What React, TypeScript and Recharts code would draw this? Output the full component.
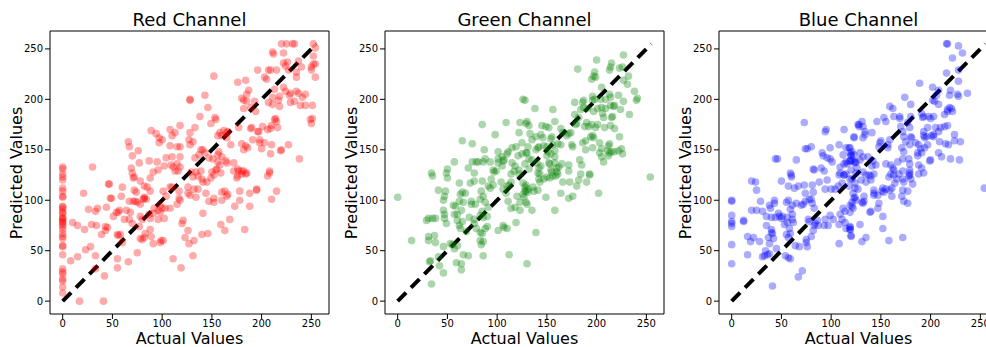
import { ReferenceLine, Scatter, ScatterChart, XAxis, YAxis } from 'recharts'

const RED_POINTS: [number, number][] = [
  [0, 133], [0, 131], [0, 126], [0, 123], [0, 120], [0, 112], [0, 109], [0, 104], [0, 103], [0, 94], [0, 93], [0, 91],
  [0, 88], [0, 87], [0, 83], [0, 82], [0, 81], [0, 79], [0, 78], [0, 76], [0, 74], [0, 71], [0, 67], [0, 64], [0, 62],
  [0, 55], [0, 54], [0, 46], [0, 32], [0, 29], [0, 27], [0, 22], [0, 20], [0, 14], [0, 8],
  [128, 200], [89, 169], [94, 166], [97, 162], [100, 160], [97, 157], [108, 170], [113, 167], [110, 164], [118, 174],
  [66, 158], [67, 153], [76, 149], [70, 144], [108, 154], [115, 153], [118, 153], [104, 142], [110, 143], [118, 143],
  [87, 139], [95, 138], [102, 134], [109, 135], [111, 133], [115, 136], [118, 133], [77, 137], [69, 132], [30, 133],
  [70, 127], [91, 128], [96, 130], [113, 129], [116, 129], [128, 167], [128, 155],
  [220, 255], [225, 255], [231, 255], [233, 255], [252, 255], [254, 251], [211, 247], [212, 245], [222, 246], [252, 243],
  [252, 235], [254, 235], [222, 236], [226, 237], [224, 233], [227, 229], [237, 238], [240, 232], [196, 229], [207, 229],
  [209, 229], [215, 229], [235, 227], [235, 222], [250, 229], [250, 232], [254, 222], [203, 222], [205, 220], [152, 223],
  [176, 217], [184, 219], [187, 209], [185, 205], [222, 212], [224, 208], [229, 206], [228, 204], [235, 208], [237, 206],
  [241, 202], [244, 205], [213, 210], [211, 202], [218, 203], [217, 199], [180, 201], [182, 199], [143, 204], [128, 199],
  [185, 198], [193, 198], [207, 197], [211, 195], [218, 193], [229, 197], [233, 198], [239, 194], [244, 194], [251, 194],
  [182, 191], [189, 192], [194, 188], [146, 192], [138, 183], [153, 182], [154, 180], [133, 172], [149, 176], [162, 169],
  [158, 167], [156, 164], [160, 164], [165, 167], [165, 162], [166, 168], [177, 172], [190, 172], [189, 171], [196, 168],
  [197, 168], [201, 173], [210, 174], [206, 170], [209, 171], [216, 172], [213, 180], [215, 178], [214, 181], [251, 181],
  [249, 180], [250, 176], [127, 160], [131, 158], [169, 155], [180, 156], [184, 154], [182, 150], [186, 152], [191, 160],
  [198, 160], [198, 157], [203, 157], [200, 151], [210, 155], [209, 146], [219, 149], [220, 150], [227, 155], [238, 141],
  [139, 150], [141, 150], [143, 147], [133, 142], [137, 145], [147, 142], [151, 141], [156, 145], [160, 143], [157, 148],
  [156, 138], [158, 135], [164, 139], [165, 137], [172, 137], [180, 129], [182, 129], [176, 131], [177, 129], [172, 129],
  [155, 131], [154, 130], [139, 129], [150, 128], [208, 129], [208, 127], [185, 127], [129, 128], [134, 128],
  [46, 116], [47, 116], [60, 113], [71, 122], [72, 123], [78, 119], [72, 110], [74, 108], [82, 114], [85, 113], [82, 102],
  [81, 101], [88, 122], [21, 107], [49, 102], [48, 102], [59, 104], [67, 99], [71, 99], [73, 99], [75, 98], [78, 96],
  [82, 103], [84, 101], [88, 109], [101, 109], [104, 104], [108, 113], [110, 113], [117, 109], [117, 102], [115, 96],
  [118, 100], [126, 113], [126, 107], [98, 95], [100, 92], [103, 92], [108, 92], [92, 92], [96, 90], [91, 87], [98, 88],
  [96, 81], [102, 82], [26, 91], [33, 89], [35, 92], [44, 93], [57, 90], [54, 88], [56, 88], [64, 90], [62, 81], [67, 81],
  [68, 88], [87, 86], [88, 82], [78, 84], [80, 81], [51, 84], [70, 77], [29, 76], [34, 75], [10, 78], [15, 75], [22, 71],
  [43, 74], [45, 73], [43, 70], [39, 66], [55, 66], [58, 66], [60, 58], [56, 65], [77, 74], [82, 63], [78, 62], [80, 61],
  [83, 67], [88, 71], [89, 64], [91, 57], [98, 58], [99, 60], [101, 60], [121, 80], [120, 77], [126, 70], [123, 63],
  [127, 57], [23, 51], [28, 54], [15, 44], [8, 40], [33, 45], [75, 48], [55, 42], [55, 33], [66, 39], [33, 32], [42, 25],
  [111, 42], [119, 33], [17, 0], [41, 0],
  [131, 123], [136, 124], [140, 121], [141, 118], [145, 118], [149, 122], [152, 125], [159, 127], [175, 122], [176, 124],
  [180, 126], [184, 126], [206, 124], [132, 111], [136, 111], [128, 105], [134, 103], [144, 107], [160, 108], [163, 109],
  [166, 106], [165, 104], [178, 109], [188, 107], [195, 111], [195, 110], [215, 109], [147, 99], [152, 102], [152, 98],
  [160, 100], [178, 100], [173, 94], [188, 94], [210, 101], [141, 87], [168, 81], [159, 76], [163, 70], [183, 71],
  [140, 66], [146, 67], [132, 60], [131, 45],
]

const GREEN_POINTS: [number, number][] = [
  [126, 200], [85, 175], [109, 177], [123, 177], [129, 176], [98, 165], [122, 167], [65, 159], [75, 156], [125, 157],
  [87, 150], [101, 148], [111, 148], [115, 152], [119, 153], [110, 146], [105, 143], [101, 141], [107, 140], [125, 146],
  [121, 144], [129, 147], [57, 138], [50, 131], [49, 127], [34, 127], [75, 138], [79, 138], [81, 138], [86, 138],
  [93, 138], [88, 141], [71, 132], [77, 127], [96, 130], [97, 128], [101, 137], [105, 134], [106, 139], [99, 129],
  [115, 137], [118, 134], [117, 129], [114, 126], [122, 130], [122, 126],
  [227, 244], [200, 239], [215, 236], [214, 232], [213, 229], [181, 230], [223, 231], [226, 232], [198, 227], [197, 223],
  [195, 220], [199, 222], [232, 223], [227, 219], [231, 215], [205, 212], [213, 205], [214, 202], [222, 204], [238, 208],
  [241, 201], [240, 199], [227, 198], [196, 203], [198, 200], [196, 199], [178, 197], [187, 199], [186, 197], [204, 200],
  [209, 200], [201, 191], [205, 192], [209, 191], [214, 194], [217, 193], [218, 194], [224, 190], [184, 190], [187, 192],
  [191, 191], [197, 188], [206, 186], [207, 182], [216, 183], [215, 182], [233, 185], [128, 199], [138, 191], [156, 190],
  [178, 185], [182, 182], [180, 176], [179, 175], [190, 177], [188, 173], [192, 173], [195, 175], [199, 172], [201, 175],
  [208, 172], [214, 174], [218, 171], [130, 178], [132, 174], [133, 166], [145, 174], [149, 173], [152, 172], [158, 178],
  [144, 165], [146, 162], [139, 163], [155, 163], [154, 161], [164, 171], [166, 167], [172, 166], [170, 164], [174, 167],
  [161, 156], [164, 155], [175, 155], [176, 153], [186, 157], [189, 159], [194, 163], [196, 164], [197, 162], [189, 150],
  [196, 152], [203, 157], [205, 151], [203, 147], [212, 154], [211, 149], [213, 156], [223, 163], [215, 148], [218, 148],
  [222, 149], [225, 151], [226, 146], [213, 147], [212, 144], [205, 143], [207, 138], [130, 147], [131, 153], [135, 160],
  [139, 150], [141, 152], [142, 153], [147, 154], [150, 153], [151, 148], [150, 144], [156, 155], [154, 146], [158, 149],
  [158, 143], [132, 141], [135, 140], [128, 136], [132, 131], [140, 137], [142, 132], [144, 134], [141, 127], [143, 126],
  [152, 137], [153, 136], [154, 130], [155, 128], [158, 137], [160, 132], [162, 133], [160, 128], [161, 126], [165, 136],
  [172, 135], [172, 129], [183, 140], [185, 135], [184, 126], [193, 126],
  [0, 103], [14, 60], [34, 17], [35, 124], [50, 122], [41, 110], [48, 109], [47, 104], [46, 100], [62, 117], [73, 117],
  [77, 119], [85, 119], [94, 121], [96, 115], [91, 114], [65, 108], [68, 107], [63, 106], [62, 99], [66, 98], [56, 95],
  [58, 94], [57, 86], [60, 86], [64, 90], [74, 99], [74, 96], [78, 96], [83, 101], [86, 104], [88, 98], [84, 109],
  [93, 112], [104, 118], [110, 114], [112, 115], [114, 118], [106, 111], [109, 107], [111, 99], [120, 104], [123, 98],
  [118, 93], [114, 92], [123, 90], [128, 113], [129, 109], [129, 98], [46, 90], [47, 82], [49, 77], [47, 86], [29, 80],
  [31, 82], [35, 82], [38, 82], [31, 64], [37, 65], [38, 58], [31, 60], [60, 80], [62, 75], [63, 72], [65, 79], [72, 83],
  [77, 81], [77, 77], [83, 85], [85, 89], [91, 93], [90, 84], [86, 83], [79, 72], [69, 69], [83, 68], [85, 67], [88, 72],
  [90, 74], [101, 70], [106, 75], [107, 73], [110, 72], [119, 78], [84, 56], [83, 60], [86, 59], [46, 54], [53, 57],
  [55, 56], [57, 52], [60, 55], [41, 44], [33, 40], [32, 39], [42, 35], [46, 28], [59, 38], [64, 37], [64, 31], [66, 46],
  [71, 45], [86, 45], [112, 46], [130, 37],
  [254, 123], [126, 117], [129, 115], [131, 111], [128, 109], [131, 108], [126, 106], [127, 103], [136, 113], [137, 109],
  [141, 110], [143, 118], [142, 121], [147, 121], [150, 123], [153, 122], [156, 124], [159, 124], [166, 118], [173, 118],
  [180, 114], [182, 120], [190, 118], [193, 125], [164, 107], [176, 104], [172, 102], [149, 103], [202, 107], [130, 96],
  [135, 90], [158, 90], [139, 68],
]

const BLUE_POINTS: [number, number][] = [
  [73, 177], [95, 170], [94, 168], [113, 170], [127, 175], [123, 163], [74, 151], [76, 151], [80, 153], [91, 147],
  [92, 144], [96, 142], [99, 141], [101, 138], [99, 152], [108, 155], [115, 152], [118, 152], [119, 147], [112, 145],
  [120, 145], [123, 145], [44, 141], [46, 141], [65, 140], [82, 131], [83, 130], [90, 132], [93, 129], [109, 133],
  [113, 136], [115, 138], [116, 136], [119, 139], [121, 140], [123, 138], [125, 138], [115, 126], [109, 127], [113, 125],
  [108, 125], [59, 127], [60, 125],
  [216, 255], [217, 255], [228, 253], [232, 246], [222, 241], [228, 229], [216, 226], [189, 216], [228, 218], [202, 212],
  [208, 209], [220, 209], [219, 204], [227, 205], [228, 203], [237, 206], [174, 202], [206, 204], [204, 198], [208, 195],
  [202, 199], [180, 195], [159, 193], [162, 191], [219, 192], [221, 191], [217, 190], [222, 188], [191, 186], [193, 183],
  [198, 183], [203, 183], [200, 181], [192, 182], [169, 183], [163, 183], [169, 181], [180, 183], [214, 185], [217, 188],
  [131, 178], [128, 175], [128, 173], [132, 173], [146, 178], [153, 182], [155, 178], [177, 177], [179, 172], [197, 172],
  [193, 168], [193, 164], [194, 162], [196, 163], [205, 172], [210, 172], [214, 173], [217, 174], [208, 168], [203, 165],
  [180, 163], [181, 162], [170, 173], [172, 168], [173, 163], [134, 168], [134, 165], [132, 162], [141, 167], [123, 162],
  [150, 159], [149, 157], [148, 153], [159, 160], [157, 155], [157, 152], [171, 152], [173, 148], [175, 158], [179, 155],
  [185, 157], [188, 155], [190, 151], [187, 147], [191, 147], [187, 144], [201, 164], [203, 163], [197, 155], [194, 152],
  [209, 158], [215, 156], [218, 155], [224, 165], [224, 159], [230, 158], [208, 147], [211, 143], [220, 141], [229, 140],
  [199, 139], [119, 152], [121, 148], [120, 144], [119, 139], [129, 147], [129, 140], [132, 143], [137, 143], [142, 139],
  [141, 134], [145, 135], [155, 136], [124, 137], [126, 132], [120, 130], [125, 127], [132, 128], [135, 125], [138, 125],
  [143, 126], [160, 135], [162, 132], [163, 130], [167, 138], [172, 141], [178, 141], [179, 136], [179, 130], [179, 127],
  [172, 129], [168, 126], [179, 125], [188, 135], [191, 132], [188, 126], [193, 127], [160, 126], [163, 125], [200, 140],
  [20, 119], [24, 118], [25, 110], [50, 119], [60, 123], [57, 114], [63, 112], [67, 114], [73, 115], [74, 107], [81, 115],
  [82, 108], [88, 118], [96, 120], [94, 111], [100, 111], [104, 111], [107, 114], [111, 117], [113, 125], [118, 114],
  [121, 121], [0, 100], [0, 99], [29, 99], [43, 100], [43, 97], [38, 95], [39, 92], [20, 90], [25, 90], [31, 89], [0, 85],
  [0, 79], [0, 77], [0, 74], [12, 80], [12, 79], [35, 84], [40, 83], [44, 83], [47, 87], [48, 84], [51, 84], [50, 82],
  [56, 83], [61, 86], [61, 81], [62, 78], [55, 98], [57, 100], [61, 95], [59, 91], [65, 97], [70, 95], [72, 96], [74, 99],
  [78, 101], [80, 101], [81, 97], [83, 92], [56, 78], [53, 76], [58, 72], [59, 67], [57, 63], [55, 66], [40, 71],
  [40, 68], [41, 67], [37, 63], [42, 62], [35, 75], [16, 64], [19, 59], [22, 63], [28, 59], [0, 56], [38, 57], [45, 52],
  [34, 50], [36, 46], [38, 47], [31, 44], [33, 45], [16, 46], [54, 45], [57, 43], [59, 42], [64, 55], [68, 54], [75, 58],
  [76, 54], [75, 61], [80, 64], [82, 70], [83, 75], [84, 77], [87, 75], [86, 80], [77, 81], [78, 79], [93, 75], [94, 81],
  [97, 75], [99, 85], [102, 81], [108, 76], [109, 86], [111, 81], [114, 78], [114, 89], [112, 92], [119, 88], [119, 73],
  [119, 71], [120, 65], [115, 72], [108, 57], [0, 37], [71, 30], [67, 24], [41, 15], [121, 94], [123, 102], [124, 112],
  [119, 121], [124, 117], [127, 111], [130, 120], [135, 118], [140, 120], [140, 124], [158, 123], [166, 121], [173, 118],
  [172, 121], [178, 124], [180, 121], [182, 116], [172, 110], [177, 109], [164, 117], [161, 112], [159, 110], [155, 111],
  [152, 112], [151, 109], [153, 108], [147, 105], [143, 107], [143, 110], [143, 105], [122, 107], [124, 103], [125, 100],
  [121, 98], [119, 95], [122, 92], [133, 104], [133, 99], [131, 98], [132, 97], [139, 88], [140, 89], [147, 92], [148, 97],
  [161, 104], [171, 104], [173, 99], [177, 97], [152, 84], [152, 72], [129, 76], [119, 74], [120, 64], [119, 71],
  [135, 63], [131, 59], [158, 60], [172, 63], [254, 112],
]

const AXIS_TICKS = [0, 50, 100, 150, 200, 250]
const DOMAIN: [number, number] = [-12.75, 267.75]
const IDENTITY = [{ x: 0, y: 0 }, { x: 255, y: 255 }]

const PANELS = [
  { title: 'Red Channel', points: RED_POINTS, color: '#ff0000', left: 0 },
  { title: 'Green Channel', points: GREEN_POINTS, color: '#008000', left: 335 },
  { title: 'Blue Channel', points: BLUE_POINTS, color: '#0000ff', left: 669 },
]

const CHART_W = 335
const CHART_H = 347
const PLOT_LEFT = 50
const PLOT_TOP = 31
const PLOT_W = 279
const PLOT_H = 283
const FONT = '"DejaVu Sans", sans-serif'

interface PanelProps {
  title: string
  points: [number, number][]
  color: string
  left: number
}

function ChannelPanel({ title, points, color, left }: PanelProps) {
  const data = points.map(([x, y]) => ({ x, y }))
  const tick = { fontSize: 10, fill: '#000' }
  return (
    <div style={{ position: 'absolute', left, top: 0, width: CHART_W, height: CHART_H }}>
      <ScatterChart
        width={CHART_W}
        height={CHART_H}
        margin={{ top: PLOT_TOP, right: CHART_W - PLOT_LEFT - PLOT_W, bottom: 0, left: 0 }}
      >
        <XAxis
          type="number"
          dataKey="x"
          domain={DOMAIN}
          ticks={AXIS_TICKS}
          allowDataOverflow
          height={CHART_H - PLOT_TOP - PLOT_H}
          stroke="#000"
          tickSize={5}
          tickMargin={1}
          tick={tick}
        />
        <YAxis
          type="number"
          dataKey="y"
          domain={DOMAIN}
          ticks={AXIS_TICKS}
          allowDataOverflow
          width={PLOT_LEFT}
          stroke="#000"
          tickSize={5}
          tickMargin={2}
          tick={tick}
        />
        <ReferenceLine y={DOMAIN[1]} stroke="#000" />
        <ReferenceLine x={DOMAIN[1]} stroke="#000" />
        <Scatter
          data={data}
          isAnimationActive={false}
          shape={(p: any) => <circle cx={p.cx} cy={p.cy} r={3.8} fill={color} fillOpacity={0.33} />}
        />
        <ReferenceLine segment={IDENTITY} stroke="#000" strokeWidth={4} strokeDasharray="12 7" />
      </ScatterChart>
      <div
        style={{
          position: 'absolute', left: PLOT_LEFT, width: PLOT_W, top: 8, lineHeight: '24px',
          textAlign: 'center', fontSize: 18, color: '#000',
        }}
      >
        {title}
      </div>
      <div
        style={{
          position: 'absolute', left: PLOT_LEFT, width: PLOT_W, top: 330, lineHeight: '17px',
          textAlign: 'center', fontSize: 16, color: '#000',
        }}
      >
        Actual Values
      </div>
      <div
        style={{
          position: 'absolute', left: 17, top: PLOT_TOP + PLOT_H / 2, fontSize: 16, lineHeight: '18px',
          whiteSpace: 'nowrap', color: '#000', transform: 'translate(-50%, -50%) rotate(-90deg)',
        }}
      >
        Predicted Values
      </div>
    </div>
  )
}

export default function App() {
  return (
    <div
      style={{
        position: 'absolute', left: 0, top: 0, width: 986, height: 347, overflow: 'hidden',
        background: '#fff', fontFamily: FONT,
      }}
    >
      {PANELS.map((p) => (
        <ChannelPanel key={p.title} {...p} />
      ))}
    </div>
  )
}
